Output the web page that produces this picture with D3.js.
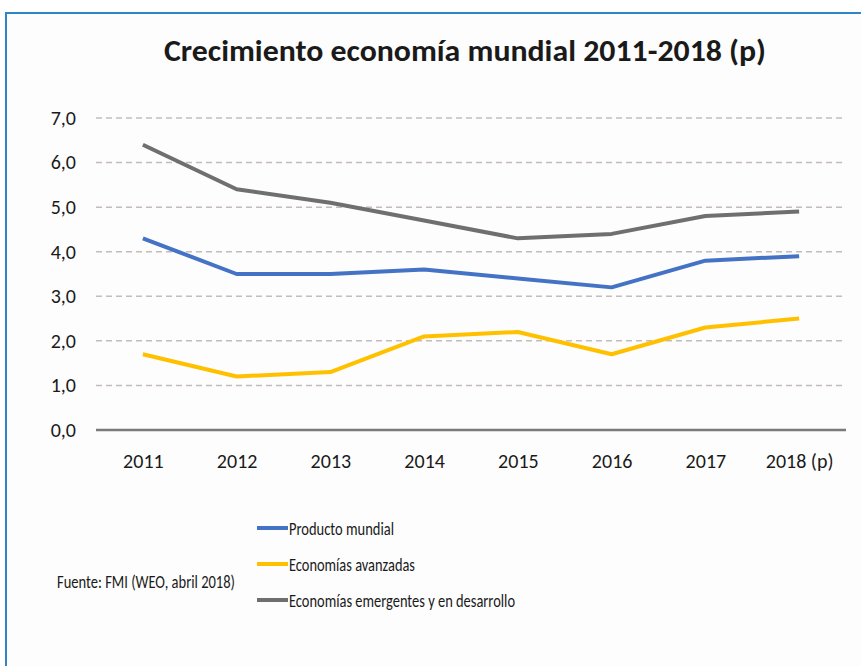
<!DOCTYPE html>
<html>
<head>
<meta charset="utf-8">
<script src="https://cdn.jsdelivr.net/npm/d3@7"></script>
<style>
  body { margin: 0; background: #fff; }
  text { font-family: Carlito, Lato, "Open Sans", sans-serif; fill: #1a1a1a; }
</style>
</head>
<body>
<svg width="861" height="666"></svg>
<script>
const years = ['2011', '2012', '2013', '2014', '2015', '2016', '2017', '2018 (p)']
const productoMundial = [4.3, 3.5, 3.5, 3.6, 3.4, 3.2, 3.8, 3.9]
const economiasAvanzadas = [1.7, 1.2, 1.3, 2.1, 2.2, 1.7, 2.3, 2.5]
const economiasEmergentes = [6.4, 5.4, 5.1, 4.7, 4.3, 4.4, 4.8, 4.9]
const seriesNames = ['Producto mundial', 'Economías avanzadas', 'Economías emergentes y en desarrollo']
const yTicks = [0, 1, 2, 3, 4, 5, 6, 7]

const svg = d3.select('svg')
const w = +svg.attr('width')
const h = +svg.attr('height')
const font = 'Carlito, Lato, "Open Sans", sans-serif'

// background + frame (only top and left edges are visible in the picture)
svg.append('rect')
  .attr('x', 6).attr('y', 13)
  .attr('width', w - 6).attr('height', h - 13)
  .attr('fill', '#fdfdfd')
svg.append('path')
  .attr('d', `M6,${h}V13H${w}`)
  .attr('fill', 'none')
  .attr('stroke', '#2e86c8')
  .attr('stroke-width', 2)

svg.append('text')
  .text('Crecimiento economía mundial 2011-2018 (p)')
  .attr('x', 164).attr('y', 61)
  .attr('font-size', 30).attr('font-weight', 'bold')
  .attr('fill', '#111')
  .attr('textLength', 602).attr('lengthAdjust', 'spacingAndGlyphs')

const margin = {top: 118, left: 96, right: 15, bottom: 236}
const innerWidth = w - margin.left - margin.right
const innerHeight = h - margin.top - margin.bottom

const g = svg.append('g')
  .attr('transform', `translate(${margin.left}, ${margin.top})`)

const xScale = d3.scalePoint()
  .domain(years)
  .range([0, innerWidth])
  .padding(0.5)

const yScale = d3.scaleLinear()
  .domain([0, 7])
  .range([innerHeight, 0])

const fmt = d => d3.format('.1f')(d).replace('.', ',')

// grid
g.append('g')
  .selectAll('line').data(yTicks.filter(d => d > 0))
  .enter().append('line')
    .attr('x1', 0).attr('x2', innerWidth)
    .attr('y1', d => yScale(d)).attr('y2', d => yScale(d))
    .attr('stroke', '#c4bcbc')
    .attr('stroke-width', 1.5)
    .attr('stroke-dasharray', '6,4')

const yAxisG = g.append('g')
  .call(d3.axisLeft(yScale).tickValues(yTicks).tickFormat(fmt).tickSize(0).tickPadding(20))
  .attr('font-size', 20).attr('font-family', font)
yAxisG.select('.domain').remove()
yAxisG.selectAll('text').attr('fill', '#1a1a1a')

const xAxisG = g.append('g')
  .attr('transform', `translate(0, ${innerHeight})`)
  .call(d3.axisBottom(xScale).tickSize(0).tickPadding(24))
  .attr('font-size', 20).attr('font-family', font)
xAxisG.select('.domain').attr('stroke', '#7a7a7a').attr('stroke-width', 2.5)
  .attr('d', `M0,0H${innerWidth}`)
xAxisG.selectAll('text').attr('fill', '#1a1a1a')

const allSeries = [
  {name: seriesNames[0], values: productoMundial, color: '#4472c4', len: 105},
  {name: seriesNames[1], values: economiasAvanzadas, color: '#ffc000', len: 126},
  {name: seriesNames[2], values: economiasEmergentes, color: '#6f6f6f', len: 226}
]

const line = d3.line()
  .x((d, i) => xScale(years[i]))
  .y(d => yScale(d))

g.selectAll('path.series').data(allSeries)
  .enter().append('path')
    .attr('class', 'series')
    .attr('d', d => line(d.values))
    .attr('fill', 'none')
    .attr('stroke', d => d.color)
    .attr('stroke-width', 4)
    .attr('stroke-linejoin', 'round')

// legend
const legend = svg.append('g').attr('transform', 'translate(257, 528)')
const items = legend.selectAll('g').data(allSeries)
  .enter().append('g')
    .attr('transform', (d, i) => `translate(0, ${i * 36})`)
items.append('line')
  .attr('x1', 0).attr('x2', 31)
  .attr('stroke', d => d.color)
  .attr('stroke-width', 4)
items.append('text')
  .text(d => d.name)
  .attr('x', 32).attr('y', 7)
  .attr('font-size', 19)
  .attr('textLength', d => d.len).attr('lengthAdjust', 'spacingAndGlyphs')

svg.append('text')
  .text('Fuente: FMI (WEO, abril 2018)')
  .attr('x', 57).attr('y', 588)
  .attr('font-size', 19)
  .attr('textLength', 178).attr('lengthAdjust', 'spacingAndGlyphs')
</script>
</body>
</html>
